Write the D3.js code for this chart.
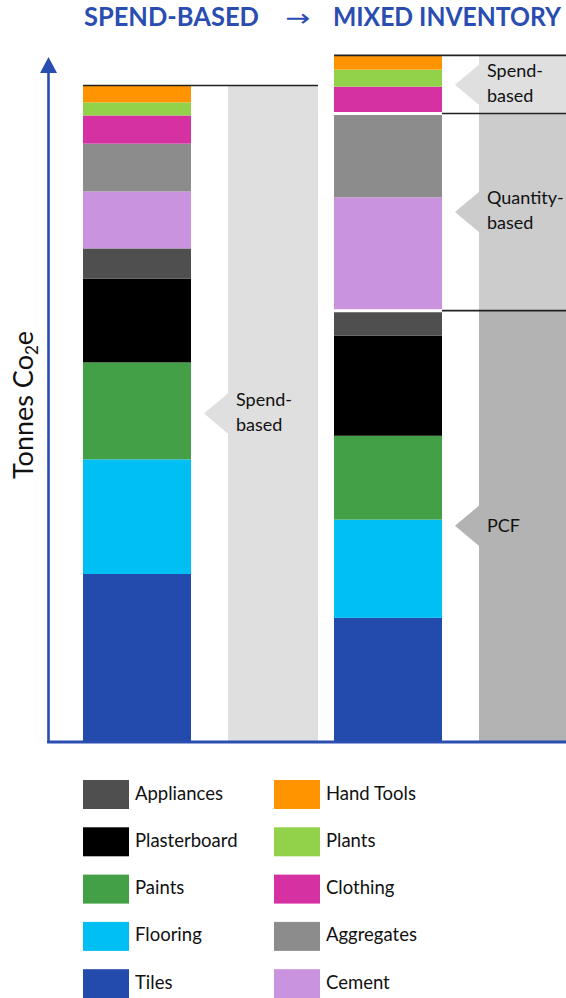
<!DOCTYPE html>
<html>
<head>
<meta charset="utf-8">
<script src="https://cdn.jsdelivr.net/npm/d3@7"></script>
<style>
  html, body { margin: 0; padding: 0; background: #fff; }
  svg { display: block; }
</style>
</head>
<body>
<svg id="chart" width="566" height="998"></svg>
<script>
// Product categories, stacked bottom to top
const categories = ["Tiles", "Flooring", "Paints", "Plasterboard", "Appliances",
                    "Cement", "Aggregates", "Clothing", "Plants", "Hand Tools"];
const inventories = ["Spend-based", "Mixed inventory"];

// Tonnes CO2e per category (relative units, spend-based total = 100)
const spendBasedValues     = [25.5, 17.5, 14.8, 12.8, 4.6, 8.7, 7.3, 4.3, 2.0, 2.5];
const mixedInventoryValues = [18.8, 15.0, 12.8, 15.3, 3.8, 17.3, 12.8, 4.1, 2.6, 2.1];

// Calculation method used for each category in each inventory
const spendBasedMethods = ["Spend-based", "Spend-based", "Spend-based", "Spend-based", "Spend-based",
                           "Spend-based", "Spend-based", "Spend-based", "Spend-based", "Spend-based"];
const mixedInventoryMethods = ["PCF", "PCF", "PCF", "PCF", "PCF",
                               "Quantity-based", "Quantity-based",
                               "Spend-based", "Spend-based", "Spend-based"];
const methodNames  = ["Spend-based", "Quantity-based", "PCF"];
const methodLines  = [["Spend-", "based"], ["Quantity-", "based"], ["PCF"]];
const methodShades = ["#dfdfdf", "#cccccc", "#b3b3b3"];

const categoryColors = ["#234bad", "#00bff3", "#43a047", "#000000", "#4f4f4f",
                        "#c993e0", "#8c8c8c", "#d631a3", "#92d14a", "#ff9300"];

// Legend layout: two columns of five
const legendLeft  = ["Appliances", "Plasterboard", "Paints", "Flooring", "Tiles"];
const legendRight = ["Hand Tools", "Plants", "Clothing", "Aggregates", "Cement"];

const BLUE = "#2a4db1";
const FONT = "Lato, 'Open Sans', sans-serif";

const svg = d3.select("#chart");

// ---- scales ----
const x = d3.scaleBand()
  .domain(inventories)
  .range([83, 442])
  .paddingInner(0.5697)
  .paddingOuter(0);

const y = d3.scaleLinear().domain([0, 100]).range([741, 86]);

const color = d3.scaleOrdinal().domain(categories).range(categoryColors);
const shade = d3.scaleOrdinal().domain(methodNames).range(methodShades);
const lines = d3.scaleOrdinal().domain(methodNames).range(methodLines);

// ---- stacked table ----
const table = [spendBasedValues, mixedInventoryValues].map((vals, i) => {
  const row = { inventory: inventories[i] };
  categories.forEach((c, j) => row[c] = vals[j]);
  return row;
});
const methodTable = { "Spend-based": spendBasedMethods, "Mixed inventory": mixedInventoryMethods };

const series = d3.stack().keys(categories)(table);

// method groups per inventory: contiguous runs of equal method
function methodGroups(inv, idx) {
  const methods = methodTable[inv];
  const groups = [];
  categories.forEach((c, j) => {
    const seg = series[j][idx];
    const last = groups[groups.length - 1];
    if (last && last.method === methods[j]) last.y1 = seg[1];
    else groups.push({ method: methods[j], y0: seg[0], y1: seg[1] });
  });
  return groups;
}

const colOffset = 145;   // method column sits right of each bar
const colWidth = 90;

inventories.forEach((inv, idx) => {
  const bx = x(inv);
  const cx = bx + colOffset;
  const groups = methodGroups(inv, idx);
  const g = svg.append("g");

  // method column blocks
  g.selectAll("rect.col").data(groups).join("rect")
    .attr("x", cx)
    .attr("y", d => y(d.y1))
    .attr("width", colWidth)
    .attr("height", d => y(d.y0) - y(d.y1))
    .attr("fill", d => shade(d.method));

  // chevrons pointing at the bar
  g.selectAll("path.chev").data(groups).join("path")
    .attr("d", d => {
      const cy = (y(d.y0) + y(d.y1)) / 2;
      return `M${cx + 1},${cy - 21} L${cx - 24},${cy} L${cx + 1},${cy + 21} Z`;
    })
    .attr("fill", d => shade(d.method));

  // method labels
  groups.forEach(d => {
    const cy = (y(d.y0) + y(d.y1)) / 2;
    const ls = lines(d.method);
    const base = ls.length === 1 ? [cy + 6] : [cy - 8, cy + 17];
    ls.forEach((t, k) => {
      g.append("text")
        .attr("x", cx + 8)
        .attr("y", base[k])
        .attr("font-family", FONT)
        .attr("font-size", 18)
        .attr("fill", "#111")
        .text(t);
    });
  });

  // stacked bar segments
  g.selectAll("rect.seg").data(series.map((s, j) => ({ key: s.key, d: s[idx] }))).join("rect")
    .attr("x", bx)
    .attr("y", d => y(d.d[1]))
    .attr("width", x.bandwidth())
    .attr("height", d => y(d.d[0]) - y(d.d[1]))
    .attr("fill", d => color(d.key));

  // group boundaries: white gap through the bar, dark rule across the column
  groups.forEach((d, k) => {
    const yy = y(d.y1);
    const isTop = k === groups.length - 1;
    if (isTop) {
      g.append("line")
        .attr("x1", bx).attr("x2", cx + colWidth)
        .attr("y1", yy - 0.5).attr("y2", yy - 0.5)
        .attr("stroke", "#222").attr("stroke-width", 1.6);
    } else {
      g.append("line")
        .attr("x1", bx).attr("x2", bx + x.bandwidth())
        .attr("y1", yy).attr("y2", yy)
        .attr("stroke", "#fff").attr("stroke-width", 3);
      g.append("line")
        .attr("x1", bx + x.bandwidth()).attr("x2", cx + colWidth)
        .attr("y1", yy).attr("y2", yy)
        .attr("stroke", "#222").attr("stroke-width", 1.6);
    }
  });
});

// ---- axes ----
const axisX = 48.5;
svg.append("line")
  .attr("x1", axisX).attr("x2", axisX)
  .attr("y1", 743).attr("y2", 70)
  .attr("stroke", BLUE).attr("stroke-width", 2.6);
svg.append("path")
  .attr("d", `M${axisX},57 L${axisX - 8.5},73 L${axisX + 8.5},73 Z`)
  .attr("fill", BLUE);
svg.append("line")
  .attr("x1", axisX - 1.3).attr("x2", 566)
  .attr("y1", 742).attr("y2", 742)
  .attr("stroke", BLUE).attr("stroke-width", 3);

// y-axis title
const yt = svg.append("text")
  .attr("transform", "translate(33,405) rotate(-90)")
  .attr("text-anchor", "middle")
  .attr("font-family", FONT)
  .attr("font-size", 27)
  .attr("fill", "#111");
yt.append("tspan").text("Tonnes Co");
yt.append("tspan").attr("font-size", 17).attr("dy", 5).text("2");
yt.append("tspan").attr("dy", -5).text("e");

// ---- title ----
const title = svg.append("g")
  .attr("transform", "translate(0,26) scale(1,1.08)")
  .attr("font-family", FONT)
  .attr("font-weight", 700)
  .attr("fill", BLUE);
title.append("text").attr("x", 84).attr("y", 0)
  .attr("font-size", 24).attr("textLength", 175).attr("lengthAdjust", "spacingAndGlyphs")
  .text("SPEND-BASED");
title.append("text").attr("x", 285).attr("y", 0)
  .attr("font-size", 22).attr("font-weight", 400)
  .attr("font-family", "'DejaVu Sans', sans-serif")
  .attr("textLength", 25).attr("lengthAdjust", "spacingAndGlyphs")
  .text("→");
title.append("text").attr("x", 333).attr("y", 0)
  .attr("font-size", 24).attr("textLength", 228).attr("lengthAdjust", "spacingAndGlyphs")
  .text("MIXED INVENTORY");

// ---- legend ----
const legend = svg.append("g");
[legendLeft, legendRight].forEach((col, ci) => {
  const lx = ci === 0 ? 83 : 274;
  col.forEach((name, ri) => {
    const ly = 780 + ri * 47.3;
    legend.append("rect")
      .attr("x", lx).attr("y", ly)
      .attr("width", 46).attr("height", 29)
      .attr("fill", color(name));
    legend.append("text")
      .attr("x", lx + 52).attr("y", ly + 19.5)
      .attr("font-family", FONT)
      .attr("font-size", 18.5)
      .attr("fill", "#111")
      .text(name);
  });
});
</script>
</body>
</html>
